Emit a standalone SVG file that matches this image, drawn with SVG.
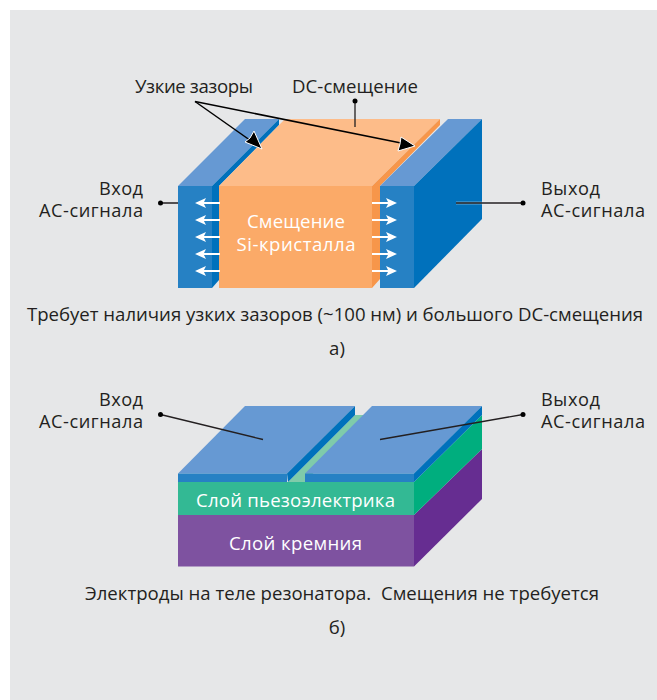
<svg xmlns="http://www.w3.org/2000/svg" width="657" height="700" viewBox="0 0 657 700">
<style>
text{font-family:"Open Sans","Noto Sans",sans-serif;font-size:18.600px;fill:#231f20}
text.t{font-size:18.200px}
.w{fill:#fff}
.m{text-anchor:middle}
.e{text-anchor:end}
.l{stroke:#231f20;stroke-width:1.3;fill:none}
.h{stroke:#000;stroke-width:1.500;fill:none}
.hd{fill:#000;stroke:#fff;stroke-width:1}
.wa{stroke:#fff;stroke-width:2;marker-end:url(#wh)}
</style>
<defs>
<marker id="wh" markerUnits="userSpaceOnUse" markerWidth="12" markerHeight="12" refX="9" refY="5" orient="auto"><path d="M0 0L11 5L0 10L2.500 5Z" fill="#fff"/></marker>
</defs>
<rect x="0" y="0" width="657" height="700" fill="#fff"/>
<rect x="10" y="10" width="647" height="690" fill="#e6e7e8"/>
<g id="node-a-left-electrode">
<polygon points="178,186 212,186 279,119 245,119" fill="#6699d3"/>
<polygon points="212,186 279,119 279,125 219,186 219,280 212,288" fill="#0071bc"/>
<rect x="178" y="186" width="34" height="102" fill="#2681c4"/>
</g>
<g id="node-a-crystal">
<polygon points="219,186 285,119 440,119 372,186" fill="#fdbc89"/>
<polygon points="372,186 440,119 440,125 380,186 380,279 372,288" fill="#f7964a"/>
<rect x="219" y="186" width="153" height="102" fill="#fbaa68"/>
<text class="w m"><tspan x="296" y="228" textLength="98">Смещение</tspan><tspan x="296" y="251" textLength="119">Si-кристалла</tspan></text>
</g>
<g id="node-a-right-electrode">
<polygon points="380,186 414,186 482,119 448,119" fill="#6699d3"/>
<polygon points="414,186 482,119 482,219 414,288" fill="#0071bc"/>
<rect x="380" y="186" width="34" height="102" fill="#2681c4"/>
</g>
<g id="node-b-stack">
<polygon points="414,515 482,449 482,499 414,566.500" fill="#662d91"/>
<polygon points="414,482 482,415 482,449 414,515" fill="#00ae7e"/>
<rect x="178" y="515" width="236" height="51.500" fill="#7e52a0"/>
<rect x="178" y="482" width="236" height="33" fill="#33b994"/>
<polygon points="288,482 355,415 368,415 305,482" fill="#7fcbaa"/>
<text class="w m" x="295.500" y="507" textLength="199">Слой пьезоэлектрика</text>
<text class="w m" x="295.500" y="550" textLength="133">Слой кремния</text>
</g>
<g id="node-b-left-electrode">
<polygon points="178,473.500 245,406 355,406 287,473.500" fill="#6699d3"/>
<polygon points="287,473.500 355,406 355,415 288,482" fill="#0071bc"/>
<rect x="178" y="473.500" width="109" height="8.500" fill="#2681c4"/>
</g>
<g id="node-b-right-electrode">
<polygon points="305,473.500 372,406 482,406 414,473.500" fill="#6699d3"/>
<polygon points="414,473.500 482,406 482,415 414,482" fill="#0071bc"/>
<rect x="305" y="473.500" width="109" height="8.500" fill="#2681c4"/>
</g>
<g id="connectors">
<path class="wa" d="M220 203H197"/><path class="wa" d="M220 220H197"/><path class="wa" d="M220 237H197"/><path class="wa" d="M220 254H197"/><path class="wa" d="M220 271H197"/>
<path class="wa" d="M372 203H395"/><path class="wa" d="M372 220H395"/><path class="wa" d="M372 237H395"/><path class="wa" d="M372 254H395"/><path class="wa" d="M372 271H395"/>
<path class="l" d="M160 203H178M355 101V127"/>
<path d="M456 203H523" stroke="#fff" stroke-width="3" opacity=".4"/>
<path class="l" d="M456 203H523"/>
<path class="l" d="M160.500 414.500L263 439.500M523 414.500L380 439.500"/>
<path class="h" d="M195 101.500L254 143"/>
<path class="h" d="M195 101.500L406 144"/>
<polygon class="hd" points="262,149 245,142 250,138 254,131"/>
<polygon class="hd" points="415,146 398,151 400,144 401,137"/>
<g fill="#000"><circle cx="160.500" cy="203" r="2.500"/><circle cx="523" cy="203" r="2.500"/><circle cx="355" cy="101" r="2.500"/><circle cx="160.500" cy="414.500" r="2.500"/><circle cx="523" cy="414.500" r="2.500"/></g>
</g>
<g id="labels">
<text class="m" x="194" y="93" textLength="118">Узкие зазоры</text>
<text class="m" x="355" y="93" textLength="126">DC-смещение</text>
<text class="e t"><tspan x="143" y="194.500" textLength="44">Вход</tspan><tspan x="143" y="217" textLength="104">AC-сигнала</tspan></text>
<text class="t"><tspan x="541" y="194.500" textLength="59">Выход</tspan><tspan x="541" y="217" textLength="104">AC-сигнала</tspan></text>
<text class="m" x="335" y="321" textLength="616">Требует наличия узких зазоров (~100 нм) и большого DC-смещения</text>
<text class="m" x="337" y="355">а)</text>
<text class="e t"><tspan x="143" y="405.500" textLength="44">Вход</tspan><tspan x="143" y="428" textLength="104">AC-сигнала</tspan></text>
<text class="t"><tspan x="541" y="405.500" textLength="59">Выход</tspan><tspan x="541" y="428" textLength="104">AC-сигнала</tspan></text>
<text class="m" x="342" y="600" textLength="514" style="white-space:pre">Электроды на теле резонатора.  Смещения не требуется</text>
<text class="m" x="337" y="634">б)</text>
</g>
</svg>
